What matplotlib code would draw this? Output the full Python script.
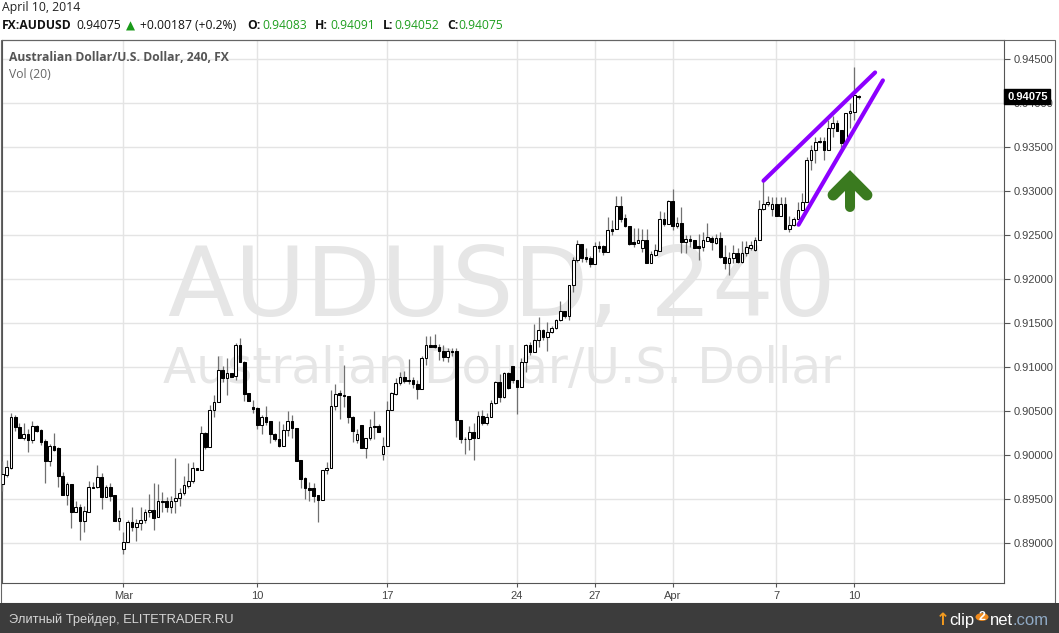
import matplotlib
matplotlib.use('Agg')
import matplotlib.pyplot as plt
from matplotlib.patches import Rectangle, Circle
import numpy as np

plt.rcParams['font.family'] = ['Liberation Sans', 'DejaVu Sans']

W, H = 1059, 633

# 4h candles AUDUSD
opens = [0.8967, 0.8978, 0.8986, 0.9043, 0.9032, 0.9020, 0.9024, 0.9017, 0.9033, 0.9029,
         0.9016, 0.8994, 0.9011, 0.9008, 0.8977, 0.8955, 0.8967, 0.8936, 0.8941, 0.8925,
         0.8936, 0.8964, 0.8964, 0.8975, 0.8953, 0.8964, 0.8955, 0.8925, 0.8893, 0.8902,
         0.8924, 0.8919, 0.8923, 0.8926, 0.8936, 0.8938, 0.8930, 0.8948, 0.8948, 0.8941,
         0.8948, 0.8951, 0.8957, 0.8965, 0.8971, 0.8986, 0.8983, 0.9025, 0.9010, 0.9051,
         0.9060, 0.9097, 0.9088, 0.9094, 0.9090, 0.9125, 0.9106, 0.9071, 0.9055, 0.9054,
         0.9035, 0.9043, 0.9039, 0.9024, 0.9018, 0.9011, 0.9029, 0.9039, 0.9031, 0.8995,
         0.8974, 0.8963, 0.8963, 0.8955, 0.8949, 0.8983, 0.8986, 0.9056, 0.9071, 0.9069,
         0.9067, 0.9043, 0.9017, 0.9035, 0.9008, 0.9020, 0.9033, 0.9033, 0.9001, 0.9011,
         0.9051, 0.9070, 0.9082, 0.9089, 0.9086, 0.9085, 0.9081, 0.9075, 0.9110, 0.9125,
         0.9125, 0.9123, 0.9118, 0.9112, 0.9119, 0.9118, 0.9040, 0.9019, 0.9018, 0.9027,
         0.9020, 0.9045, 0.9037, 0.9043, 0.9059, 0.9083, 0.9066, 0.9093, 0.9101, 0.9086,
         0.9078, 0.9106, 0.9125, 0.9117, 0.9131, 0.9142, 0.9134, 0.9140, 0.9145, 0.9154,
         0.9164, 0.9158, 0.9193, 0.9222, 0.9240, 0.9225, 0.9224, 0.9217, 0.9238, 0.9238,
         0.9231, 0.9257, 0.9257, 0.9283, 0.9270, 0.9261, 0.9242, 0.9241, 0.9235, 0.9245,
         0.9219, 0.9228, 0.9232, 0.9269, 0.9263, 0.9289, 0.9261, 0.9264, 0.9242, 0.9246,
         0.9245, 0.9238, 0.9237, 0.9244, 0.9247, 0.9241, 0.9247, 0.9225, 0.9218, 0.9224,
         0.9230, 0.9220, 0.9230, 0.9235, 0.9233, 0.9245, 0.9280, 0.9286, 0.9280, 0.9286,
         0.9272, 0.9286, 0.9257, 0.9262, 0.9268, 0.9279, 0.9288, 0.9336, 0.9347, 0.9357,
         0.9357, 0.9347, 0.9372, 0.9378, 0.9370, 0.9356, 0.9389, 0.9390, 0.94083]
highs = [0.8994, 0.8995, 0.9048, 0.9046, 0.9037, 0.9037, 0.9030, 0.9039, 0.9035, 0.9030,
         0.9019, 0.9013, 0.9025, 0.9009, 0.8981, 0.8970, 0.8967, 0.8948, 0.8945, 0.8942,
         0.8971, 0.8970, 0.8989, 0.8980, 0.8966, 0.8968, 0.8955, 0.8938, 0.8913, 0.8926,
         0.8941, 0.8928, 0.8941, 0.8939, 0.8956, 0.8968, 0.8967, 0.8958, 0.8953, 0.8954,
         0.8997, 0.8963, 0.8976, 0.8991, 0.8992, 0.8986, 0.9033, 0.9027, 0.9057, 0.9068,
         0.9113, 0.9101, 0.9110, 0.9094, 0.9128, 0.9133, 0.9107, 0.9071, 0.9063, 0.9055,
         0.9046, 0.9056, 0.9039, 0.9025, 0.9039, 0.9036, 0.9050, 0.9046, 0.9031, 0.8995,
         0.8975, 0.8970, 0.8968, 0.8955, 0.8983, 0.8992, 0.9074, 0.9081, 0.9074, 0.9103,
         0.9067, 0.9045, 0.9030, 0.9035, 0.9020, 0.9041, 0.9050, 0.9036, 0.9021, 0.9062,
         0.9072, 0.9088, 0.9095, 0.9096, 0.9109, 0.9089, 0.9085, 0.9113, 0.9136, 0.9136,
         0.9138, 0.9126, 0.9125, 0.9122, 0.9122, 0.9122, 0.9040, 0.9021, 0.9033, 0.9037,
         0.9050, 0.9051, 0.9048, 0.9063, 0.9084, 0.9092, 0.9095, 0.9095, 0.9101, 0.9086,
         0.9110, 0.9127, 0.9129, 0.9149, 0.9157, 0.9144, 0.9152, 0.9147, 0.9155, 0.9175,
         0.9164, 0.9194, 0.9225, 0.9245, 0.9240, 0.9236, 0.9226, 0.9242, 0.9243, 0.9239,
         0.9271, 0.9267, 0.9295, 0.9295, 0.9274, 0.9261, 0.9258, 0.9258, 0.9257, 0.9257,
         0.9232, 0.9240, 0.9278, 0.9277, 0.9290, 0.9303, 0.9271, 0.9282, 0.9250, 0.9250,
         0.9245, 0.9252, 0.9254, 0.9264, 0.9249, 0.9252, 0.9254, 0.9239, 0.9231, 0.9239,
         0.9235, 0.9243, 0.9243, 0.9243, 0.9248, 0.9290, 0.9312, 0.9295, 0.9294, 0.9294,
         0.9294, 0.9294, 0.9272, 0.9271, 0.9288, 0.9298, 0.9339, 0.9353, 0.9362, 0.9362,
         0.9362, 0.9381, 0.9386, 0.9381, 0.9370, 0.9389, 0.9400, 0.9441, 0.94091]
lows = [0.8959, 0.8975, 0.8985, 0.9028, 0.9020, 0.9017, 0.9004, 0.9014, 0.9026, 0.9012,
        0.8968, 0.8988, 0.9005, 0.8964, 0.8955, 0.8944, 0.8917, 0.8936, 0.8904, 0.8913,
        0.8936, 0.8963, 0.8963, 0.8939, 0.8953, 0.8948, 0.8925, 0.8915, 0.8888, 0.8902,
        0.8914, 0.8903, 0.8915, 0.8923, 0.8930, 0.8915, 0.8930, 0.8936, 0.8936, 0.8934,
        0.8934, 0.8942, 0.8955, 0.8963, 0.8968, 0.8983, 0.8983, 0.9007, 0.9010, 0.9043,
        0.9060, 0.9083, 0.9069, 0.9089, 0.9085, 0.9106, 0.9062, 0.9062, 0.9048, 0.9030,
        0.9024, 0.9034, 0.9014, 0.9016, 0.9010, 0.9011, 0.9022, 0.9020, 0.8994, 0.8963,
        0.8950, 0.8948, 0.8947, 0.8924, 0.8949, 0.8979, 0.8986, 0.9051, 0.9041, 0.9055,
        0.9037, 0.9015, 0.9014, 0.9008, 0.8997, 0.9017, 0.9019, 0.9026, 0.8995, 0.9011,
        0.9051, 0.9068, 0.9080, 0.9082, 0.9081, 0.9077, 0.9064, 0.9075, 0.9103, 0.9123,
        0.9122, 0.9108, 0.9107, 0.9106, 0.9113, 0.9021, 0.9014, 0.9002, 0.9006, 0.8995,
        0.9020, 0.9035, 0.9034, 0.9043, 0.9058, 0.9061, 0.9065, 0.9075, 0.9082, 0.9047,
        0.9078, 0.9095, 0.9114, 0.9117, 0.9123, 0.9131, 0.9119, 0.9139, 0.9144, 0.9153,
        0.9156, 0.9154, 0.9186, 0.9220, 0.9220, 0.9220, 0.9214, 0.9217, 0.9231, 0.9228,
        0.9231, 0.9250, 0.9257, 0.9265, 0.9259, 0.9239, 0.9237, 0.9241, 0.9231, 0.9218,
        0.9218, 0.9226, 0.9232, 0.9261, 0.9263, 0.9256, 0.9258, 0.9230, 0.9230, 0.9237,
        0.9235, 0.9222, 0.9232, 0.9243, 0.9233, 0.9240, 0.9224, 0.9212, 0.9205, 0.9218,
        0.9218, 0.9218, 0.9226, 0.9233, 0.9232, 0.9245, 0.9279, 0.9283, 0.9272, 0.9272,
        0.9272, 0.9257, 0.9254, 0.9260, 0.9268, 0.9279, 0.9288, 0.9324, 0.9332, 0.9355,
        0.9336, 0.9347, 0.9362, 0.9368, 0.9349, 0.9356, 0.9372, 0.9381, 0.94052]
closes = [0.8979, 0.8987, 0.9043, 0.9032, 0.9020, 0.9024, 0.9017, 0.9033, 0.9028, 0.9015,
          0.8994, 0.9011, 0.9006, 0.8976, 0.8955, 0.8967, 0.8936, 0.8941, 0.8925, 0.8937,
          0.8964, 0.8963, 0.8975, 0.8953, 0.8964, 0.8954, 0.8925, 0.8929, 0.8902, 0.8924,
          0.8919, 0.8923, 0.8926, 0.8936, 0.8938, 0.8929, 0.8948, 0.8947, 0.8941, 0.8948,
          0.8951, 0.8957, 0.8966, 0.8971, 0.8986, 0.8983, 0.9025, 0.9010, 0.9051, 0.9060,
          0.9097, 0.9088, 0.9094, 0.9089, 0.9125, 0.9106, 0.9070, 0.9062, 0.9053, 0.9035,
          0.9043, 0.9038, 0.9024, 0.9018, 0.9011, 0.9029, 0.9039, 0.9031, 0.8994, 0.8973,
          0.8963, 0.8961, 0.8954, 0.8949, 0.8983, 0.8986, 0.9056, 0.9070, 0.9069, 0.9067,
          0.9043, 0.9028, 0.9024, 0.9008, 0.9020, 0.9032, 0.9032, 0.9027, 0.9011, 0.9052,
          0.9071, 0.9082, 0.9089, 0.9084, 0.9084, 0.9081, 0.9075, 0.9110, 0.9125, 0.9123,
          0.9123, 0.9118, 0.9112, 0.9118, 0.9117, 0.9040, 0.9019, 0.9018, 0.9027, 0.9020,
          0.9045, 0.9037, 0.9043, 0.9059, 0.9083, 0.9066, 0.9093, 0.9077, 0.9085, 0.9078,
          0.9106, 0.9125, 0.9117, 0.9131, 0.9142, 0.9134, 0.9140, 0.9145, 0.9154, 0.9164,
          0.9158, 0.9193, 0.9222, 0.9240, 0.9224, 0.9223, 0.9217, 0.9238, 0.9236, 0.9231,
          0.9256, 0.9255, 0.9283, 0.9269, 0.9261, 0.9240, 0.9240, 0.9245, 0.9245, 0.9219,
          0.9229, 0.9233, 0.9269, 0.9263, 0.9289, 0.9261, 0.9264, 0.9242, 0.9246, 0.9244,
          0.9236, 0.9236, 0.9245, 0.9248, 0.9242, 0.9247, 0.9225, 0.9218, 0.9224, 0.9230,
          0.9220, 0.9230, 0.9237, 0.9239, 0.9245, 0.9280, 0.9286, 0.9288, 0.9286, 0.9272,
          0.9286, 0.9257, 0.9262, 0.9268, 0.9279, 0.9288, 0.9336, 0.9347, 0.9356, 0.9356,
          0.9347, 0.9372, 0.9378, 0.9369, 0.9355, 0.9389, 0.9391, 0.9409, 0.94075]

date_ticks = [28, 59, 89, 119, 137, 155, 179, 197]
date_labels = ['Mar', '10', '17', '24', '27', 'Apr', '7', '10']
price_ticks = [0.890, 0.895, 0.900, 0.905, 0.910, 0.915, 0.920, 0.925,
               0.930, 0.935, 0.940, 0.945]

# trend channel (index, price)
upper_line = ([176.0, 201.8], [0.9312, 0.9435])
lower_line = ([184.1, 203.6], [0.9262, 0.9426])


def fx(x):
    return x / W


def fy(y):
    return 1 - y / H


fig = plt.figure(figsize=(W / 100, H / 100), dpi=100)
fig.patch.set_facecolor('white')

ax = fig.add_axes([fx(1.5), fy(583), (1004 - 1.5) / W, (583 - 40) / H])
ax.set_facecolor('white')
ax.set_xlim(-0.16, 231.6)
ax.set_ylim(0.88549, 0.94719)

for s in ax.spines.values():
    s.set_color('#555555')
    s.set_linewidth(0.8)

ax.set_yticks(price_ticks)
ax.set_yticklabels(['%.5f' % v for v in price_ticks])
ax.yaxis.tick_right()
ax.set_xticks(date_ticks)
ax.set_xticklabels(date_labels)
ax.tick_params(axis='y', direction='out', length=4, width=0.8, color='#555555',
               labelsize=8, labelcolor='#444444', pad=3)
ax.tick_params(axis='x', direction='out', length=3, width=0.8, color='#555555',
               labelsize=8, labelcolor='#444444', pad=3)
ax.grid(True, color='#e4e4e4', lw=1.0)
ax.set_axisbelow(True)

# watermark
ax.text(fx(502), fy(316), 'AUDUSD, 240', transform=fig.transFigure, ha='center',
        va='baseline', fontsize=70, color='#e6e6e6', family='DejaVu Sans', zorder=1)
ax.text(fx(502), fy(383), 'Australian Dollar/U.S. Dollar', transform=fig.transFigure,
        ha='center', va='baseline', fontsize=35, color='#e6e6e6', family='DejaVu Sans',
        zorder=1)

# candles
o = np.array(opens)
h = np.array(highs)
l = np.array(lows)
c = np.array(closes)
idx = np.arange(len(o))
up = c >= o
lo = np.minimum(o, c)
ht = np.maximum(np.abs(c - o), 0.00001)

ax.vlines(idx, l, h, color='#707070', lw=0.9, zorder=3)
ax.bar(idx[up], ht[up], bottom=lo[up], width=0.62, facecolor='white',
       edgecolor='black', lw=0.75, zorder=4)
ax.bar(idx[~up], ht[~up], bottom=lo[~up], width=0.62, facecolor='black',
       edgecolor='black', lw=0.75, zorder=4)

# drawn channel
for xs, ys in (upper_line, lower_line):
    ax.plot(xs, ys, color='#8c00ff', lw=3.0, solid_capstyle='round', zorder=6)

# green arrow
green = '#3a7a1f'
ax.plot([196.0, 196.0], [0.93128, 0.92822], color=green, lw=7.2,
        solid_capstyle='round', zorder=6)
ax.plot([192.1, 196.0, 199.9], [0.92958, 0.93151, 0.92958], color=green, lw=8.0,
        solid_capstyle='round', solid_joinstyle='miter', zorder=6)

# last price tag
ax.annotate('%.5f' % closes[-1], xy=(1, closes[-1]), xycoords=('axes fraction', 'data'),
            xytext=(2.2, 0), textcoords='offset points', ha='left', va='center',
            fontsize=8, fontweight='bold', color='white', annotation_clip=False,
            bbox=dict(boxstyle='square,pad=0.25', fc='black', ec='black'), zorder=8)

# titles inside chart
fig.text(fx(9), fy(61), 'Australian Dollar/U.S. Dollar, 240, FX', ha='left',
         va='baseline', fontsize=8.7, fontweight='bold', color='#555555',
         family=['Open Sans', 'DejaVu Sans'])
fig.text(fx(9), fy(78), 'Vol (20)', ha='left', va='baseline', fontsize=8.7,
         color='#666666', family=['Open Sans', 'DejaVu Sans'])

# header
hdr = ['Open Sans', 'DejaVu Sans']
val_green = '#1e9e1e'
fig.text(fx(1.5), fy(11), 'April 10, 2014', ha='left', va='baseline', fontsize=8.8,
         color='#222222', family=hdr)
pieces = [(1.5, 'FX:AUDUSD', 'bold', '#111111'),
          (76, '0.94075', 'normal', '#111111'),
          (140, '+0.00187 (+0.2%)', 'normal', '#111111'),
          (247, 'O:', 'bold', '#111111'),
          (262, '0.94083', 'normal', val_green),
          (315, 'H:', 'bold', '#111111'),
          (330, '0.94091', 'normal', val_green),
          (383, 'L:', 'bold', '#111111'),
          (394, '0.94052', 'normal', val_green),
          (447, 'C:', 'bold', '#111111'),
          (458, '0.94075', 'normal', val_green)]
for x, s, wgt, col in pieces:
    fig.text(fx(x), fy(29.3), s, ha='left', va='baseline', fontsize=8.7,
             fontweight=wgt, color=col, family=hdr)
fig.text(fx(125.5), fy(29.3), '\u25b2', ha='left', va='baseline', fontsize=8.5,
         color='#1a9a1a', family='DejaVu Sans')

# outer frame
fig.add_artist(Rectangle((fx(1), fy(603)), (1055 - 1) / W, (603 - 40) / H,
                         transform=fig.transFigure, fill=False, ec='#666666', lw=0.8))

# footer
fig.add_artist(Rectangle((0, 0), 1, 30 / H, transform=fig.transFigure,
                         fc='#3c3c3c', ec='none'))
fig.text(fx(9), fy(623), 'Элитный Трейдер, ELITETRADER.RU', ha='left', va='baseline',
         fontsize=9.3, color='#d4d4d4')
fig.text(fx(936), fy(625), '\u2191', ha='left', va='baseline', fontsize=12,
         color='#f29a1f', family='DejaVu Sans', fontweight='bold')
fig.text(fx(949), fy(625), 'clip', ha='left', va='baseline', fontsize=12,
         color='white')
fig.add_artist(Circle((fx(982), fy(617)), 6.5 / W, transform=fig.transFigure,
                      fc='#f08a1c', ec='none'))
fig.text(fx(982), fy(617.5), '2', ha='center', va='center', fontsize=9,
         color='white', fontweight='bold')
fig.text(fx(990), fy(625), 'net', ha='left', va='baseline', fontsize=12,
         color='white')
fig.text(fx(1013), fy(625), '.com', ha='left', va='baseline', fontsize=12,
         color='#8fa9c4')

fig.savefig('out.png', dpi=100)
